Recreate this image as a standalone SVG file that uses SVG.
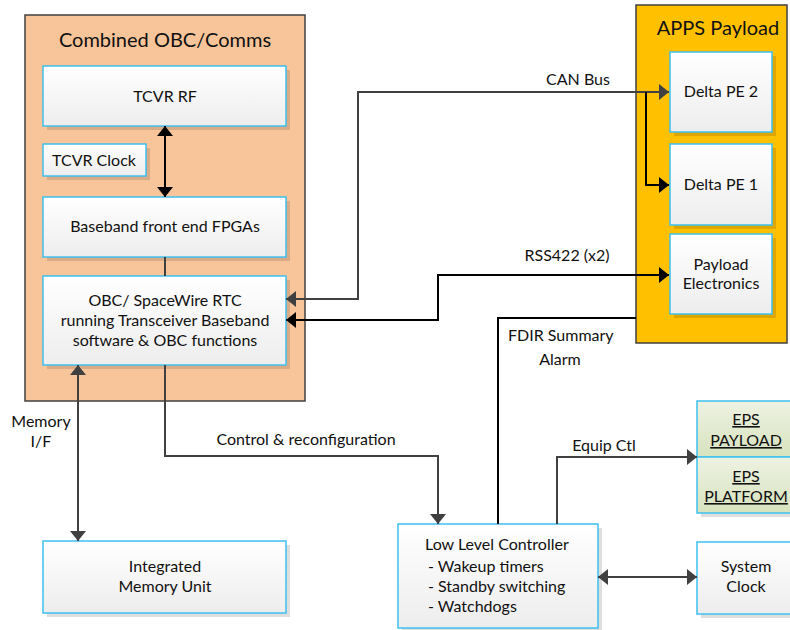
<svg xmlns="http://www.w3.org/2000/svg" width="790" height="630" viewBox="0 0 790 630">
  <style>
    text { font-family: Lato, "Liberation Sans", sans-serif; fill: #111; }
    .t { font-size: 16px; text-anchor: middle; }
    .tl { font-size: 16px; }
    .title { font-size: 20px; text-anchor: middle; }
    .u { text-decoration: underline; }
    .box { fill: url(#gWhite); stroke: #3EC0EE; stroke-width: 1.5; }
    .eps { fill: url(#gGreen); stroke: #3EC0EE; stroke-width: 1.5; }
    .shadow { fill: #000; opacity: 0.13; }
    .cb { fill: none; stroke: #000; stroke-width: 2; }
    .cg { fill: none; stroke: #404040; stroke-width: 2; }
  </style>
  <defs>
    <linearGradient id="gWhite" x1="0" y1="0" x2="0" y2="1">
      <stop offset="0" stop-color="#FFFFFF"/>
      <stop offset="1" stop-color="#EDEDED"/>
    </linearGradient>
    <linearGradient id="gGreen" x1="0" y1="0" x2="0" y2="1">
      <stop offset="0" stop-color="#EEF2E2"/>
      <stop offset="1" stop-color="#D7E3BE"/>
    </linearGradient>
    <marker id="aB" markerUnits="userSpaceOnUse" markerWidth="11" markerHeight="16" refX="10" refY="8" orient="auto-start-reverse">
      <path d="M0,0 L10,8 L0,16 z" fill="#000"/>
    </marker>
    <marker id="aG" markerUnits="userSpaceOnUse" markerWidth="11" markerHeight="16" refX="10" refY="8" orient="auto-start-reverse">
      <path d="M0,0 L10,8 L0,16 z" fill="#404040"/>
    </marker>
  </defs>

  <rect width="790" height="630" fill="#FFFFFF"/>

  <!-- Combined OBC/Comms container -->
  <g id="obc-comms">
    <rect x="25" y="15" width="280" height="386" fill="#F8C49A" stroke="#404040" stroke-width="1.5"/>
    <text class="title" x="165" y="47">Combined OBC/Comms</text>
  </g>

  <!-- APPS Payload container -->
  <g id="apps-payload">
    <rect x="636" y="5" width="151" height="338" fill="#FFC000" stroke="#404040" stroke-width="1.5"/>
    <text class="title" x="718" y="35">APPS Payload</text>
  </g>

  <g id="tcvr-rf">
    <rect class="shadow" x="47" y="70" width="243" height="60"/>
    <rect class="box" x="43" y="66" width="243" height="60"/>
    <text class="t" x="165" y="102">TCVR RF</text>
  </g>

  <g id="tcvr-clock">
    <rect class="shadow" x="47" y="148" width="103" height="32"/>
    <rect class="box" x="43" y="144" width="103" height="32"/>
    <text class="t" x="94" y="166">TCVR Clock</text>
  </g>

  <g id="baseband-fpga">
    <rect class="shadow" x="47" y="201" width="243" height="60"/>
    <rect class="box" x="43" y="197" width="243" height="60"/>
    <text class="t" x="165" y="232">Baseband front end FPGAs</text>
  </g>

  <g id="obc-rtc">
    <rect class="shadow" x="47" y="280" width="243" height="89"/>
    <rect class="box" x="43" y="276" width="243" height="89"/>
    <text class="t" x="165" y="306">OBC/ SpaceWire RTC</text>
    <text class="t" x="165" y="326">running Transceiver Baseband</text>
    <text class="t" x="165" y="346">software &amp; OBC functions</text>
  </g>

  <g id="memory-unit">
    <rect class="shadow" x="47" y="545" width="243" height="72"/>
    <rect class="box" x="43" y="541" width="243" height="72"/>
    <text class="t" x="165" y="572">Integrated</text>
    <text class="t" x="165" y="592">Memory Unit</text>
  </g>

  <g id="delta-pe2">
    <rect class="shadow" x="674" y="56" width="102" height="80"/>
    <rect class="box" x="670" y="52" width="102" height="80"/>
    <text class="t" x="721" y="97">Delta PE 2</text>
  </g>

  <g id="delta-pe1">
    <rect class="shadow" x="674" y="148" width="102" height="81"/>
    <rect class="box" x="670" y="144" width="102" height="81"/>
    <text class="t" x="721" y="190">Delta PE 1</text>
  </g>

  <g id="payload-electronics">
    <rect class="shadow" x="674" y="238" width="102" height="80"/>
    <rect class="box" x="670" y="234" width="102" height="80"/>
    <text class="t" x="721" y="270">Payload</text>
    <text class="t" x="721" y="289">Electronics</text>
  </g>

  <g id="low-level-controller">
    <rect class="shadow" x="402" y="528" width="200" height="104"/>
    <rect class="box" x="398" y="524" width="200" height="104"/>
    <text class="tl" x="425" y="550">Low Level Controller</text>
    <text class="tl" x="428" y="572">- Wakeup timers</text>
    <text class="tl" x="428" y="592">- Standby switching</text>
    <text class="tl" x="428" y="612">- Watchdogs</text>
  </g>

  <g id="eps-payload">
    <rect class="shadow" x="701" y="405" width="98" height="56"/>
    <rect class="eps" x="697" y="401" width="98" height="56"/>
    <text class="t u" x="746" y="425">EPS</text>
    <text class="t u" x="746" y="446">PAYLOAD</text>
  </g>

  <g id="eps-platform">
    <rect class="shadow" x="701" y="461" width="98" height="56"/>
    <rect class="eps" x="697" y="457" width="98" height="56"/>
    <text class="t u" x="746" y="482">EPS</text>
    <text class="t u" x="746" y="502">PLATFORM</text>
  </g>

  <g id="system-clock">
    <rect class="shadow" x="701" y="546" width="98" height="72"/>
    <rect class="box" x="697" y="542" width="98" height="72"/>
    <text class="t" x="746" y="572">System</text>
    <text class="t" x="746" y="592">Clock</text>
  </g>

  <!-- Connectors -->
  <g id="connectors">
    <path class="cb" d="M165,126 V197" marker-start="url(#aB)" marker-end="url(#aB)"/>
    <path class="cg" d="M165,257 V276"/>
    <path class="cg" d="M286,299 H358 V92 H669" marker-start="url(#aG)" marker-end="url(#aG)"/>
    <path class="cb" d="M646,92 V185 H669" marker-end="url(#aB)"/>
    <path class="cb" d="M286,320 H438 V275 H669" marker-start="url(#aB)" marker-end="url(#aB)"/>
    <path class="cb" d="M498,524 V318 H636"/>
    <path class="cg" d="M78,365 V541" marker-start="url(#aG)" marker-end="url(#aG)"/>
    <path class="cg" d="M165,365 V456 H438 V524" marker-end="url(#aG)"/>
    <path class="cg" d="M557,524 V457 H697" marker-end="url(#aG)"/>
    <path class="cg" d="M598,577 H697" marker-start="url(#aG)" marker-end="url(#aG)"/>

    <!-- connector labels -->
    <rect x="548" y="70" width="60" height="21" fill="#FFFFFF"/>
    <text class="t" x="578" y="85">CAN Bus</text>
    <text class="t" x="567" y="261">RSS422 (x2)</text>
    <text class="tl" x="508" y="341">FDIR Summary</text>
    <text class="t" x="560" y="365">Alarm</text>
    <text class="t" x="41" y="427">Memory</text>
    <text class="t" x="41" y="447">I/F</text>
    <text class="t" x="306" y="445">Control &amp; reconfiguration</text>
    <rect x="573" y="436" width="62" height="20" fill="#FFFFFF"/>
    <text class="t" x="604" y="451">Equip Ctl</text>
  </g>
</svg>
